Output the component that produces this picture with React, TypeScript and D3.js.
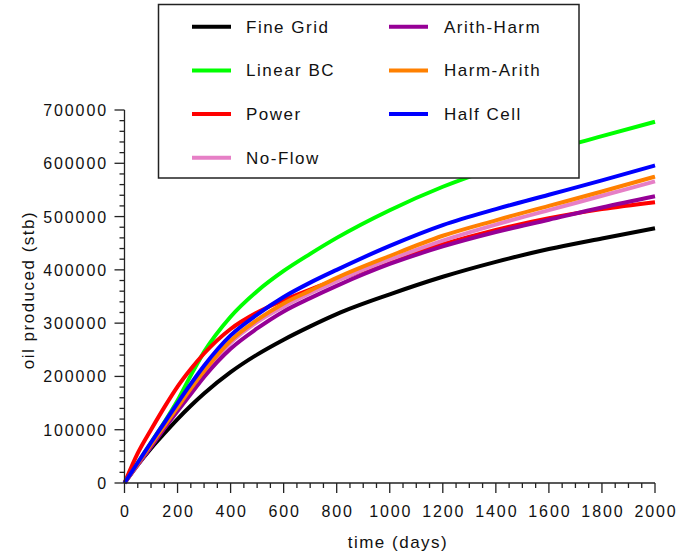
import React from "react";
import * as d3 from "d3";

const days = [0, 50, 100, 150, 200, 250, 300, 400, 500, 600, 700, 800, 1000, 1200, 1400, 1600, 1800, 2000];

const fineGrid = [0, 34000, 65000, 93000, 120000, 145000, 168000, 208000, 241000, 269000, 294000, 317000, 354000, 387000, 415000, 439000, 459000, 478000];
const linearBC = [0, 38000, 76000, 114000, 155000, 202000, 246000, 312000, 360000, 398000, 430000, 460000, 512000, 556000, 592000, 623000, 651000, 678000];
const power = [0, 56000, 100000, 142000, 181000, 214000, 243000, 289000, 320000, 343000, 363000, 381000, 416000, 448000, 475000, 497000, 514000, 527000];
const noFlow = [0, 34000, 69000, 104000, 139000, 173000, 206000, 263000, 302000, 331000, 356000, 379000, 419000, 455000, 485000, 512000, 539000, 566000];
const arithHarm = [0, 34000, 68000, 102000, 135000, 167000, 199000, 252000, 290000, 322000, 347000, 370000, 411000, 444000, 471000, 494000, 517000, 538000];
const harmArith = [0, 36000, 72000, 107000, 142000, 177000, 210000, 267000, 306000, 337000, 361000, 385000, 426000, 464000, 493000, 520000, 547000, 575000];
const halfCell = [0, 38000, 76000, 113000, 150000, 186000, 220000, 277000, 316000, 349000, 376000, 400000, 445000, 484000, 514000, 541000, 568000, 596000];

const seriesNames = ["Fine Grid", "Linear BC", "Power", "No-Flow", "Arith-Harm", "Harm-Arith", "Half Cell"];
const seriesValues = [fineGrid, linearBC, power, noFlow, arithHarm, harmArith, halfCell];
const seriesColors = ["#000000", "#00ff00", "#ff0000", "#e67fc6", "#960096", "#ff8000", "#0000ff"];

const xTicks = [0, 200, 400, 600, 800, 1000, 1200, 1400, 1600, 1800, 2000];
const yTicks = [0, 100000, 200000, 300000, 400000, 500000, 600000, 700000];

const W = 694;
const H = 556;
const left = 124.5;
const right = 655;
const top = 110;
const bottom = 483;

const font = "'Liberation Sans', Arial, sans-serif";

export default function App() {
  const x = d3.scaleLinear().domain([0, 2000]).range([left, right]);
  const y = d3.scaleLinear().domain([0, 700000]).range([bottom, top]);
  const line = d3
    .line<[number, number]>()
    .x((d) => x(d[0]))
    .y((d) => y(d[1]))
    .curve(d3.curveMonotoneX);

  const xMinor = d3.range(0, 2001, 50);
  const yMinor = d3.range(0, 700001, 20000);

  const legendOrder = [0, 1, 2, 3, 4, 5, 6];
  const legendPos = (i: number) => {
    const col = i < 4 ? 0 : 1;
    const row = i < 4 ? i : i - 4;
    return { lx: col === 0 ? 192 : 389, tx: col === 0 ? 246 : 444, cy: 26.7 + row * 43.7 };
  };

  return (
    <svg
      width={W}
      height={H}
      style={{ position: "absolute", left: 0, top: 0, background: "#fff" }}
      fontFamily={font}
    >
      <rect x={0} y={0} width={W} height={H} fill="#fff" />
      <g fill="none" strokeLinejoin="round" strokeLinecap="butt">
        {seriesValues.map((vals, i) => (
          <path
            key={seriesNames[i]}
            d={line(days.map((d, j) => [d, vals[j]] as [number, number])) || ""}
            stroke={seriesColors[i]}
            strokeWidth={4}
          />
        ))}
      </g>

      <g stroke="#222" strokeWidth={1.3}>
        <line x1={left} x2={right} y1={bottom} y2={bottom} />
        {xMinor.map((t) => (
          <line key={"xm" + t} x1={x(t)} x2={x(t)} y1={bottom} y2={bottom + (t % 200 === 0 ? 10 : 5)} />
        ))}
        <line x1={left} x2={left} y1={top} y2={bottom} />
        {yMinor.map((t) => (
          <line key={"ym" + t} x1={left} x2={left - (t % 100000 === 0 ? 10 : 5)} y1={y(t)} y2={y(t)} />
        ))}
      </g>
      <g fontSize={16} letterSpacing={1.9} fill="#111">
        {xTicks.map((t) => (
          <text key={"xt" + t} x={x(t) + 1} y={517} textAnchor="middle">
            {t}
          </text>
        ))}
        {yTicks.map((t) => (
          <text key={"yt" + t} x={108} y={y(t) + 6} textAnchor="end">
            {t}
          </text>
        ))}
      </g>
      <text x={398} y={548} textAnchor="middle" fontSize={17} letterSpacing={1.5} fill="#111">
        time (days)
      </text>
      <text
        transform={`translate(34, 290) rotate(-90)`}
        textAnchor="middle"
        fontSize={17}
        letterSpacing={1.5}
        fill="#111"
      >
        oil produced (stb)
      </text>

      <rect x={158.5} y={4.5} width={420.5} height={173.5} fill="#fff" stroke="#222" strokeWidth={1.5} />
      {legendOrder.map((i) => {
        const p = legendPos(i);
        return (
          <g key={"lg" + i}>
            <line x1={p.lx} x2={p.lx + 39} y1={p.cy} y2={p.cy} stroke={seriesColors[i]} strokeWidth={4} />
            <text x={p.tx} y={p.cy + 6} fontSize={17} letterSpacing={1.5} fill="#111">
              {seriesNames[i]}
            </text>
          </g>
        );
      })}
    </svg>
  );
}
